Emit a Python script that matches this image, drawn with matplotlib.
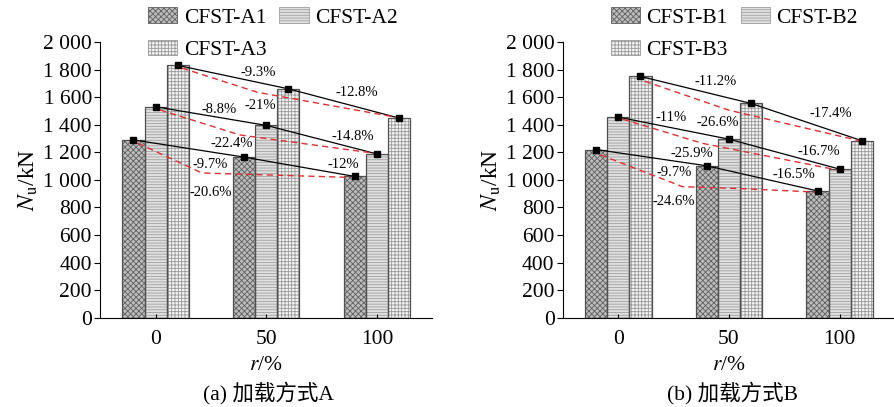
import numpy as np
import matplotlib
matplotlib.use('Agg')
import matplotlib.pyplot as plt
from matplotlib.ticker import FuncFormatter

plt.rcParams['font.family'] = ['Liberation Serif', 'Noto Sans CJK SC']
plt.rcParams['mathtext.fontset'] = 'stix'
plt.rcParams['hatch.linewidth'] = 0.6

# 数据
r = [0, 50, 100]
a1 = [1290, 1165, 1025]
a2 = [1530, 1395, 1188]
a3 = [1830, 1660, 1448]
b1 = [1220, 1102, 920]
b2 = [1455, 1295, 1078]
b3 = [1750, 1554, 1284]

# 红色虚线 (从图上读出的折点)
a1_dash_x = [-8, 21, 88]
a1_dash_y = [1266, 1050, 1018]
a2_dash_x = [2, 38, 99]
a2_dash_y = [1507, 1326, 1193]
a3_dash_x = [12, 46, 110]
a3_dash_y = [1810, 1635, 1450]
b1_dash_x = [-8, 29, 55, 89]
b1_dash_y = [1181, 951, 937, 912]
b2_dash_x = [2, 38, 99]
b2_dash_y = [1440, 1265, 1072]
b3_dash_x = [12, 50, 110]
b3_dash_y = [1715, 1505, 1280]

# 百分比标注
a_text = ['-9.3%', '-12.8%', '-21%', '-8.8%', '-22.4%', '-14.8%', '-9.7%', '-12%', '-20.6%']
a_text_x = [46.5, 90.8, 47.3, 28.5, 34.5, 89.3, 24.8, 84.8, 24.8]
a_text_y = [1777, 1632, 1536, 1512, 1261, 1314, 1109, 1109, 908]
b_text = ['-11.2%', '-17.4%', '-11%', '-26.6%', '-25.9%', '-16.7%', '-9.7%', '-16.5%', '-24.6%']
b_text_x = [44, 95.9, 23.7, 45, 33.4, 90.6, 25.2, 79.4, 25.2]
b_text_y = [1712, 1483, 1454, 1415, 1193, 1205, 1053, 1036, 843]

styles = [
    dict(facecolor='#bdbdbd', hatch='xxxxxx', hatch_edge='#606060'),
    dict(facecolor='#e0e0e0', hatch='------', hatch_edge='#a0a0a0'),
    dict(facecolor='#f4f4f4', hatch='+++++', hatch_edge='#999999'),
]


def draw_panel(ax, series, names, dashes, texts, tx, ty):
    x = np.array(r)
    width = 10
    offsets = [-10, 0, 10]
    handles = []
    for vals, off, st, name in zip(series, offsets, styles, names):
        ax.bar(x + off, vals, width, color=st['facecolor'], hatch=st['hatch'],
               edgecolor=st['hatch_edge'], linewidth=0, zorder=1)
        ax.bar(x + off, vals, width, fill=False, edgecolor='#505050',
               linewidth=0.9, zorder=2)
        h = plt.Rectangle((0, 0), 1, 1, facecolor=st['facecolor'], hatch=st['hatch'],
                          edgecolor=st['hatch_edge'], linewidth=0.6)
        handles.append(h)
        ax.plot(x + off, vals, '-', color='black', linewidth=0.9, zorder=3)
        ax.plot(x + off, vals, 's', color='black', markersize=4.5, zorder=4)
    for dx, dy in dashes:
        ax.plot(dx, dy, '--', color='#e03030', linewidth=1.0, dashes=(4.5, 3), zorder=3)
    for t, px, py in zip(texts, tx, ty):
        ax.text(px, py, t, fontsize=10.5, ha='center', va='center', zorder=5)

    ax.set_xlim(-25, 125)
    ax.set_ylim(0, 2000)
    ax.set_xticks(r)
    ax.set_yticks(range(0, 2001, 200))
    ax.yaxis.set_major_formatter(FuncFormatter(lambda v, p: f'{int(v):,}'.replace(',', ' ')))
    ax.tick_params(axis='x', direction='in', length=3, labelsize=15.5, pad=9)
    ax.tick_params(axis='y', direction='out', length=4, labelsize=15.5, pad=2)
    ax.spines['top'].set_visible(False)
    ax.spines['right'].set_visible(False)
    ax.set_xlabel('$\\mathit{r}$/%', fontsize=15.5, labelpad=5)
    ax.set_ylabel('$\\mathit{N}_{\\mathrm{u}}$/kN', fontsize=17, labelpad=2)
    # 两列按行排列: A1 A2 / A3
    order = [0, 2, 1]
    leg = ax.legend([handles[i] for i in order], [names[i] for i in order],
                    loc='upper left', bbox_to_anchor=(0.145, 1.125),
                    ncol=2, frameon=False, fontsize=15.5, handlelength=1.35,
                    handleheight=0.75, handletextpad=0.3, columnspacing=0.6,
                    labelspacing=0.55, borderaxespad=0, borderpad=0)
    return leg


fig = plt.figure(figsize=(8.95, 4.07), dpi=100)
ax1 = fig.add_axes([0.112, 0.219, 0.371, 0.678])
ax2 = fig.add_axes([0.629, 0.219, 0.371, 0.678])

draw_panel(ax1, [a1, a2, a3], ['CFST-A1', 'CFST-A2', 'CFST-A3'],
           [(a1_dash_x, a1_dash_y), (a2_dash_x, a2_dash_y), (a3_dash_x, a3_dash_y)],
           a_text, a_text_x, a_text_y)
draw_panel(ax2, [b1, b2, b3], ['CFST-B1', 'CFST-B2', 'CFST-B3'],
           [(b1_dash_x, b1_dash_y), (b2_dash_x, b2_dash_y), (b3_dash_x, b3_dash_y)],
           b_text, b_text_x, b_text_y)

fig.text(0.300, 0.034, '(a) 加载方式A', ha='center', va='center', fontsize=15.5)
fig.text(0.818, 0.034, '(b) 加载方式B', ha='center', va='center', fontsize=15.5)

fig.savefig('out.png', dpi=100)
